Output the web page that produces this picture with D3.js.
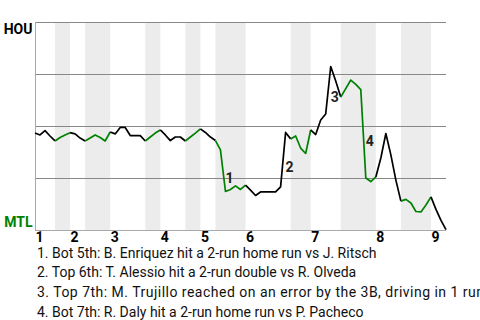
<!DOCTYPE html>
<html>
<head>
<meta charset="utf-8">
<script src="https://cdn.jsdelivr.net/npm/d3@7"></script>
<style>
  html, body { margin: 0; padding: 0; background: #fff; }
  svg { display: block; font-family: Roboto, "Noto Sans", sans-serif; }
</style>
</head>
<body>
<svg id="chart" width="480" height="320"></svg>
<script>
// ---- data ----
const innings = ["1", "2", "3", "4", "5", "6", "7", "8", "9"];
// plate appearances per half inning (top 1, bot 1, top 2, ...)
const halfInningPAs = [4, 3, 3, 5, 7, 3, 5, 3, 3, 6, 9, 4, 6, 7, 5, 6, 3];
// HOU win probability after each plate appearance
const winProb = [
  0.466, 0.457, 0.478, 0.452, 0.428,
  0.445, 0.457, 0.468,
  0.462, 0.442, 0.428,
  0.442, 0.457, 0.445, 0.428, 0.471,
  0.462, 0.493, 0.493, 0.454, 0.454, 0.454, 0.428,
  0.447, 0.466, 0.481,
  0.457, 0.430, 0.447, 0.447, 0.428,
  0.447, 0.466, 0.486,
  0.469, 0.447, 0.430,
  0.385, 0.185, 0.195, 0.212, 0.195, 0.216,
  0.192, 0.166, 0.183, 0.183, 0.183, 0.183, 0.207, 0.469, 0.438,
  0.452, 0.394, 0.368, 0.481,
  0.459, 0.529, 0.558, 0.786, 0.716, 0.639,
  0.680, 0.721, 0.700, 0.675, 0.250, 0.233, 0.255,
  0.346, 0.464, 0.361, 0.240, 0.139,
  0.147, 0.130, 0.089, 0.087, 0.120, 0.159,
  0.099, 0.046, 0.002
];
const teams = ["HOU", "MTL"];
const eventIndex = [38, 50, 59, 66];
const eventText = [
  "1. Bot 5th: B. Enriquez hit a 2-run home run vs J. Ritsch",
  "2. Top 6th: T. Alessio hit a 2-run double vs R. Olveda",
  "3. Top 7th: M. Trujillo reached on an error by the 3B, driving in 1 run",
  "4. Bot 7th: R. Daly hit a 2-run home run vs P. Pacheco"
];
const gridValues = [0.25, 0.5, 0.75, 1];

// ---- layout ----
const L = 35, R = 446, T = 22, B = 230;
const totalPA = d3.sum(halfInningPAs);
const x = d3.scaleLinear().domain([0, totalPA]).range([L, R]);
const y = d3.scaleLinear().domain([0, 1]).range([B, T]);
const svg = d3.select("#chart");

const starts = [];
let acc = 0;
halfInningPAs.forEach(n => { starts.push(acc); acc += n; });

// bands for bottom halves
svg.append("g").selectAll("rect")
  .data(halfInningPAs.map((n, i) => ({ s: starts[i], e: starts[i] + n, bottom: i % 2 === 1 })).filter(d => d.bottom))
  .join("rect")
  .attr("x", d => x(d.s)).attr("width", d => x(d.e) - x(d.s))
  .attr("y", T).attr("height", B - T)
  .attr("fill", "#ececec");

// gridlines
svg.append("g").selectAll("line").data(gridValues).join("line")
  .attr("x1", L).attr("x2", R)
  .attr("y1", d => Math.round(y(d)) + 0.5).attr("y2", d => Math.round(y(d)) + 0.5)
  .attr("stroke", "#888").attr("stroke-width", 1);

// axis lines
svg.append("line").attr("x1", L).attr("x2", R).attr("y1", B + 0.5).attr("y2", B + 0.5)
  .attr("stroke", "#aaa");
svg.append("line").attr("x1", L + 0.5).attr("x2", L + 0.5).attr("y1", T).attr("y2", B)
  .attr("stroke", "#aaa");

// x axis labels (inning starts)
const inningStarts = innings.map((_, i) => starts[i * 2]);
const xAxis = d3.axisBottom(x).tickValues(inningStarts)
  .tickFormat((d, i) => innings[i]).tickSize(0);
const gx = svg.append("g").attr("transform", `translate(0,${B})`).call(xAxis);
gx.select(".domain").remove();
gx.selectAll("text")
  .attr("text-anchor", "start").attr("y", 11.5).attr("dy", null)
  .attr("font-family", "Roboto, sans-serif").attr("font-size", 14)
  .attr("font-weight", "bold").attr("fill", "#000");

// team labels
svg.append("text").attr("x", 32.5).attr("y", 33.5).attr("text-anchor", "end")
  .attr("font-size", 14).attr("font-weight", "bold").attr("fill", "#000").text(teams[0]);
svg.append("text").attr("x", 32.5).attr("y", 226.5).attr("text-anchor", "end")
  .attr("font-size", 14).attr("font-weight", "bold").attr("fill", "#008000").text(teams[1]);

// win probability line, coloured by half inning
const line = d3.line().x(d => x(d[0])).y(d => y(d[1]));
halfInningPAs.forEach((n, i) => {
  const s = starts[i];
  const pts = d3.range(s, s + n + 1).map(k => [k, winProb[k]]);
  svg.append("path").attr("d", line(pts))
    .attr("fill", "none")
    .attr("stroke", i % 2 === 1 ? "#008000" : "#000")
    .attr("stroke-width", 1.7)
    .attr("stroke-linejoin", "round");
});

// event markers
svg.append("g").selectAll("text").data(eventIndex).join("text")
  .attr("x", d => x(d))
  .attr("y", d => (y(winProb[d - 1]) + y(winProb[d])) / 2 + 12)
  .attr("font-size", 14).attr("font-weight", "bold").attr("fill", "#222")
  .text((d, i) => String(i + 1));

// event descriptions (third line runs past the right edge in the reference)
svg.append("g").selectAll("text").data(eventText).join("text")
  .attr("x", 37).attr("y", (d, i) => 257.5 + i * 19.7)
  .attr("font-size", 14).attr("fill", "#111")
  .each(function (d, i) {
    if (i === 2) d3.select(this).attr("textLength", 447).attr("lengthAdjust", "spacing");
  })
  .text(d => d);
</script>
</body>
</html>
